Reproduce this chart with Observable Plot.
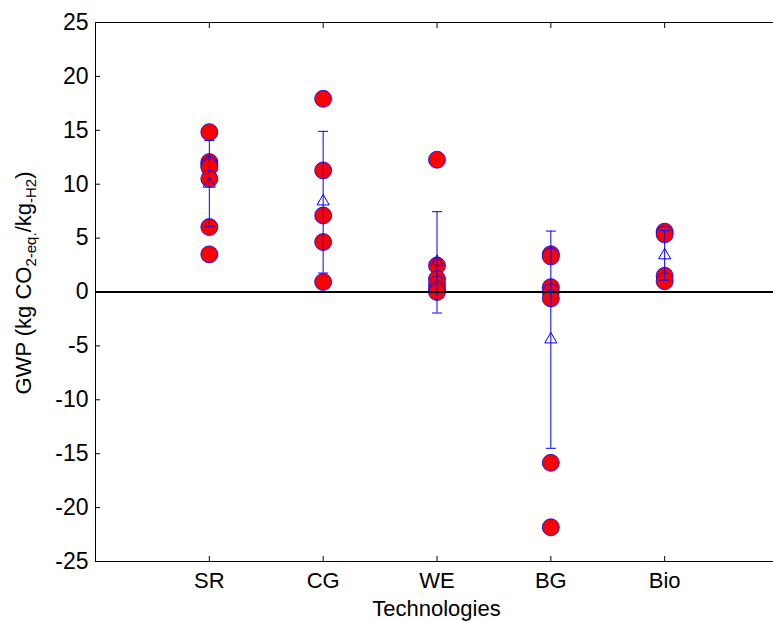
<!DOCTYPE html>
<html><head><meta charset="utf-8">
<script src="https://cdn.jsdelivr.net/npm/d3@7"></script>
<script src="https://cdn.jsdelivr.net/npm/@observablehq/plot@0.6"></script>
<style>body{margin:0;background:#fff;} #chart svg{display:block;}</style>
</head><body><div id="chart"></div>
<script>
const technologies = ["SR", "CG", "WE", "BG", "Bio"];
const srValues = [14.83, 12.05, 11.8, 11.58, 10.5, 6.02, 3.49];
const cgValues = [17.92, 11.28, 7.1, 4.63, 0.93];
const weValues = [12.27, 2.45, 1.2, 0.7, 0.25, 0.0];
const bgValues = [3.5, 3.3, 0.45, 0.0, -0.6, -15.85, -21.83];
const bioValues = [5.6, 5.35, 1.5, 1.0];
const meanValues = [10.05, 8.4, 2.8, -4.4, 3.4];
const lowerValues = [6.05, 1.76, -1.95, -14.5, 1.1];
const upperValues = [14.05, 14.9, 7.45, 5.65, 5.7];
const yTicks = [-25, -20, -15, -10, -5, 0, 5, 10, 15, 20, 25];

const xPos = technologies.map((_, i) => i + 1);
const points = [];
[srValues, cgValues, weValues, bgValues, bioValues].forEach((vals, i) =>
  vals.forEach(v => points.push({x: i + 1, y: v})));
const stats = technologies.map((t, i) => ({x: i + 1, mean: meanValues[i], lo: lowerValues[i], hi: upperValues[i]}));
const capSymbol = {draw(ctx, size) { ctx.moveTo(-5, 0); ctx.lineTo(5, 0); }};
const blank = () => "";

const plot = Plot.plot({
  width: 773, height: 621,
  marginLeft: 95, marginRight: -5, marginTop: 22, marginBottom: 60,
  style: {fontFamily: "'Liberation Sans', Arial, sans-serif", fontSize: "23px", background: "white", color: "black"},
  x: {domain: [0, 6], axis: null},
  y: {domain: [-25, 25], axis: null},
  marks: [
    Plot.dot(points, {x: "x", y: "y", r: 8.5, fill: "red", stroke: "blue", strokeWidth: 0.8}),
    Plot.ruleY([0], {stroke: "black", strokeWidth: 2}),
    Plot.ruleX(stats, {x: "x", y1: "lo", y2: "hi", stroke: "blue", strokeWidth: 1}),
    Plot.dot(stats, {x: "x", y: "lo", symbol: capSymbol, stroke: "blue", strokeWidth: 1}),
    Plot.dot(stats, {x: "x", y: "hi", symbol: capSymbol, stroke: "blue", strokeWidth: 1}),
    Plot.dot(stats, {x: "x", y: "mean", symbol: "triangle", r: 4.5, stroke: "blue", fill: "none", strokeWidth: 1}),
    Plot.axisY(yTicks, {anchor: "left", tickSize: 0, tickPadding: 7, fontSize: 23, tickFormat: d => String(d), label: null}),
    Plot.axisY(yTicks, {anchor: "left", tickSize: -5, tickFormat: blank, label: null}),
    Plot.axisY(yTicks, {anchor: "right", tickSize: -5, tickFormat: blank, label: null}),
    Plot.axisX(xPos, {anchor: "bottom", tickSize: 0, tickPadding: 11, tickFormat: i => technologies[i - 1], fontSize: 22, label: null}),
    Plot.axisX(xPos, {anchor: "bottom", tickSize: -5, tickFormat: blank, label: null}),
    Plot.axisX(xPos, {anchor: "top", tickSize: -5, tickFormat: blank, label: null}),
    Plot.frame({stroke: "black"})
  ]
});
document.getElementById("chart").appendChild(plot);

const svg = d3.select(plot);
const yl = svg.append("text")
  .attr("transform", "translate(31,283) rotate(-90)")
  .attr("text-anchor", "middle")
  .attr("font-size", 22)
  .attr("fill", "black");
yl.append("tspan").text("GWP (kg CO");
yl.append("tspan").attr("font-size", 15).attr("dy", 5).text("2-eq.");
yl.append("tspan").attr("dy", -5).text("/kg");
yl.append("tspan").attr("font-size", 15).attr("dy", 5).text("-H2");
yl.append("tspan").attr("dy", -5).text(")");

svg.append("text")
  .attr("x", 436.5).attr("y", 616)
  .attr("text-anchor", "middle")
  .attr("font-size", 22)
  .attr("fill", "black")
  .text("Technologies");
</script>
</body></html>
